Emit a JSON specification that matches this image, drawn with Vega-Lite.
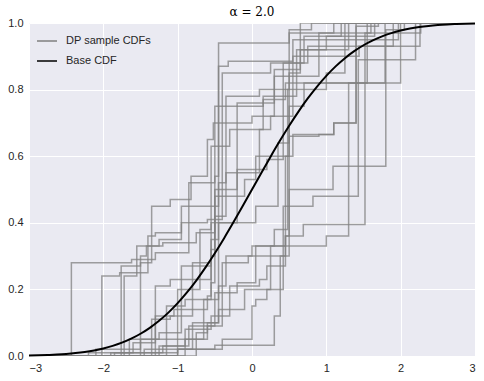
{
"$schema": "https://vega.github.io/schema/vega-lite/v6.json",
"width": 446, "height": 333,
"autosize": {"type": "none"},
"padding": {"left": 29, "top": 23, "right": 9, "bottom": 25},
"background": "white",
"config": {
 "view": {"fill": "#EAEAF2", "stroke": null},
 "axis": {"domain": false, "ticks": false, "gridColor": "white", "gridWidth": 1, "labelFont": "Liberation Sans", "labelFontSize": 11, "labelColor": "#262626", "title": null},
 "legend": {"labelFont": "Liberation Sans", "labelFontSize": 11, "labelColor": "#262626"}
},
"title": {"text": "α = 2.0", "font": "DejaVu Serif", "fontSize": 12, "fontWeight": "normal", "color": "#000000", "anchor": "middle", "offset": 4, "dy": 6},
"datasets": {
"samples": [
{"c":1,"x":-3,"y":0},{"c":1,"x":-2.43,"y":0.28},{"c":1,"x":-1.62,"y":0.29},{"c":1,"x":-1.3,"y":0.31},{"c":1,"x":-0.85,"y":0.52},{"c":1,"x":-0.5,"y":0.54},{"c":1,"x":-0.45,"y":0.94},{"c":1,"x":0.5,"y":0.97},{"c":1,"x":1.1,"y":1},{"c":1,"x":3,"y":1},
{"c":2,"x":-3,"y":0},{"c":2,"x":-2.02,"y":0.24},{"c":2,"x":-1.78,"y":0.25},{"c":2,"x":-1.4,"y":0.36},{"c":2,"x":-1.3,"y":0.37},{"c":2,"x":-0.95,"y":0.45},{"c":2,"x":-0.45,"y":0.87},{"c":2,"x":-0.32,"y":0.885},{"c":2,"x":0.55,"y":0.95},{"c":2,"x":1.97,"y":1},{"c":2,"x":3,"y":1},
{"c":3,"x":-3,"y":0},{"c":3,"x":-1.76,"y":0.27},{"c":3,"x":-1.5,"y":0.28},{"c":3,"x":-1.35,"y":0.45},{"c":3,"x":-1.1,"y":0.47},{"c":3,"x":-0.82,"y":0.54},{"c":3,"x":-0.6,"y":0.65},{"c":3,"x":-0.52,"y":0.7},{"c":3,"x":0.0,"y":0.72},{"c":3,"x":0.3,"y":0.84},{"c":3,"x":0.9,"y":0.97},{"c":3,"x":1.4,"y":1},{"c":3,"x":3,"y":1},
{"c":4,"x":-3,"y":0},{"c":4,"x":-1.72,"y":0.24},{"c":4,"x":-1.55,"y":0.33},{"c":4,"x":-1.25,"y":0.35},{"c":4,"x":-0.95,"y":0.4},{"c":4,"x":-0.6,"y":0.41},{"c":4,"x":-0.4,"y":0.85},{"c":4,"x":0.25,"y":0.88},{"c":4,"x":0.75,"y":0.93},{"c":4,"x":2.26,"y":1},{"c":4,"x":3,"y":1},
{"c":5,"x":-3,"y":0},{"c":5,"x":-1.5,"y":0.3},{"c":5,"x":-1.42,"y":0.33},{"c":5,"x":-1.2,"y":0.34},{"c":5,"x":-0.75,"y":0.37},{"c":5,"x":-0.5,"y":0.42},{"c":5,"x":-0.35,"y":0.78},{"c":5,"x":0.1,"y":0.8},{"c":5,"x":0.5,"y":0.98},{"c":5,"x":0.8,"y":1},{"c":5,"x":3,"y":1},
{"c":6,"x":-3,"y":0},{"c":6,"x":-1.3,"y":0.21},{"c":6,"x":-1.1,"y":0.23},{"c":6,"x":-0.7,"y":0.38},{"c":6,"x":-0.55,"y":0.4},{"c":6,"x":-0.2,"y":0.75},{"c":6,"x":0.15,"y":0.77},{"c":6,"x":0.45,"y":0.82},{"c":6,"x":1.79,"y":1},{"c":6,"x":3,"y":1},
{"c":7,"x":-3,"y":0},{"c":7,"x":-1.25,"y":0.03},{"c":7,"x":-0.9,"y":0.05},{"c":7,"x":-0.6,"y":0.1},{"c":7,"x":-0.5,"y":0.19},{"c":7,"x":-0.2,"y":0.22},{"c":7,"x":0.05,"y":0.33},{"c":7,"x":0.45,"y":0.6},{"c":7,"x":0.55,"y":0.665},{"c":7,"x":1.1,"y":0.7},{"c":7,"x":1.4,"y":0.97},{"c":7,"x":1.6,"y":1},{"c":7,"x":3,"y":1},
{"c":8,"x":-3,"y":0},{"c":8,"x":-1.9,"y":0.01},{"c":8,"x":-1.0,"y":0.02},{"c":8,"x":-0.5,"y":0.032},{"c":8,"x":0.3,"y":0.12},{"c":8,"x":0.38,"y":0.3},{"c":8,"x":0.5,"y":0.33},{"c":8,"x":1.0,"y":0.36},{"c":8,"x":1.3,"y":0.82},{"c":8,"x":2.0,"y":1},{"c":8,"x":3,"y":1},
{"c":9,"x":-3,"y":0},{"c":9,"x":-1.0,"y":0.02},{"c":9,"x":-0.4,"y":0.05},{"c":9,"x":0.0,"y":0.15},{"c":9,"x":0.05,"y":0.17},{"c":9,"x":0.2,"y":0.2},{"c":9,"x":0.42,"y":0.45},{"c":9,"x":0.82,"y":0.48},{"c":9,"x":1.43,"y":0.89},{"c":9,"x":2.2,"y":1},{"c":9,"x":3,"y":1},
{"c":10,"x":-3,"y":0},{"c":10,"x":-0.9,"y":0.08},{"c":10,"x":-0.55,"y":0.12},{"c":10,"x":-0.3,"y":0.21},{"c":10,"x":0.1,"y":0.23},{"c":10,"x":0.2,"y":0.27},{"c":10,"x":0.45,"y":0.36},{"c":10,"x":0.69,"y":0.395},{"c":10,"x":1.52,"y":0.97},{"c":10,"x":2.27,"y":1},{"c":10,"x":3,"y":1},
{"c":11,"x":-3,"y":0},{"c":11,"x":-1.45,"y":0.02},{"c":11,"x":-0.8,"y":0.1},{"c":11,"x":-0.45,"y":0.14},{"c":11,"x":-0.1,"y":0.2},{"c":11,"x":0.25,"y":0.33},{"c":11,"x":0.5,"y":0.5},{"c":11,"x":1.09,"y":0.57},{"c":11,"x":1.8,"y":0.98},{"c":11,"x":2.05,"y":1},{"c":11,"x":3,"y":1},
{"c":12,"x":-3,"y":0},{"c":12,"x":-1.15,"y":0.15},{"c":12,"x":-0.9,"y":0.17},{"c":12,"x":-0.55,"y":0.22},{"c":12,"x":-0.5,"y":0.48},{"c":12,"x":-0.1,"y":0.53},{"c":12,"x":0.05,"y":0.6},{"c":12,"x":0.5,"y":0.85},{"c":12,"x":0.65,"y":0.92},{"c":12,"x":1.3,"y":1},{"c":12,"x":3,"y":1},
{"c":13,"x":-3,"y":0},{"c":13,"x":-0.75,"y":0.07},{"c":13,"x":-0.6,"y":0.09},{"c":13,"x":-0.4,"y":0.28},{"c":13,"x":-0.05,"y":0.3},{"c":13,"x":0.45,"y":0.36},{"c":13,"x":0.5,"y":0.66},{"c":13,"x":0.9,"y":0.665},{"c":13,"x":1.1,"y":0.7},{"c":13,"x":1.4,"y":0.99},{"c":13,"x":1.7,"y":1},{"c":13,"x":3,"y":1},
{"c":14,"x":-3,"y":0},{"c":14,"x":-2.2,"y":0.01},{"c":14,"x":-1.6,"y":0.04},{"c":14,"x":-1.3,"y":0.12},{"c":14,"x":-1.05,"y":0.14},{"c":14,"x":-0.6,"y":0.18},{"c":14,"x":-0.55,"y":0.63},{"c":14,"x":-0.3,"y":0.68},{"c":14,"x":0.15,"y":0.78},{"c":14,"x":0.6,"y":0.92},{"c":14,"x":1.0,"y":0.96},{"c":14,"x":1.65,"y":1},{"c":14,"x":3,"y":1},
{"c":15,"x":-3,"y":0},{"c":15,"x":-1.65,"y":0.05},{"c":15,"x":-1.25,"y":0.07},{"c":15,"x":-0.95,"y":0.27},{"c":15,"x":-0.55,"y":0.3},{"c":15,"x":-0.5,"y":0.5},{"c":15,"x":-0.2,"y":0.56},{"c":15,"x":0.2,"y":0.59},{"c":15,"x":0.42,"y":0.88},{"c":15,"x":0.7,"y":0.96},{"c":15,"x":1.2,"y":1},{"c":15,"x":3,"y":1},
{"c":16,"x":-3,"y":0},{"c":16,"x":-1.0,"y":0.05},{"c":16,"x":-0.65,"y":0.17},{"c":16,"x":-0.45,"y":0.21},{"c":16,"x":-0.35,"y":0.3},{"c":16,"x":0.0,"y":0.33},{"c":16,"x":0.3,"y":0.38},{"c":16,"x":0.48,"y":0.8},{"c":16,"x":1.0,"y":0.85},{"c":16,"x":1.25,"y":1},{"c":16,"x":3,"y":1},
{"c":17,"x":-3,"y":0},{"c":17,"x":-1.85,"y":0.01},{"c":17,"x":-1.2,"y":0.03},{"c":17,"x":-0.85,"y":0.09},{"c":17,"x":-0.5,"y":0.1},{"c":17,"x":-0.45,"y":0.52},{"c":17,"x":-0.35,"y":0.55},{"c":17,"x":0.1,"y":0.68},{"c":17,"x":0.25,"y":0.72},{"c":17,"x":0.55,"y":0.9},{"c":17,"x":1.44,"y":0.93},{"c":17,"x":1.9,"y":1},{"c":17,"x":3,"y":1},
{"c":18,"x":-3,"y":0},{"c":18,"x":-1.35,"y":0.11},{"c":18,"x":-1.1,"y":0.12},{"c":18,"x":-0.8,"y":0.28},{"c":18,"x":-0.55,"y":0.35},{"c":18,"x":-0.45,"y":0.4},{"c":18,"x":0.05,"y":0.45},{"c":18,"x":0.35,"y":0.64},{"c":18,"x":0.5,"y":0.75},{"c":18,"x":0.7,"y":0.82},{"c":18,"x":1.55,"y":1},{"c":18,"x":3,"y":1},
{"c":19,"x":-3,"y":0},{"c":19,"x":-2.1,"y":0.02},{"c":19,"x":-1.5,"y":0.05},{"c":19,"x":-1.0,"y":0.2},{"c":19,"x":-0.7,"y":0.23},{"c":19,"x":-0.55,"y":0.32},{"c":19,"x":-0.5,"y":0.75},{"c":19,"x":-0.2,"y":0.76},{"c":19,"x":0.3,"y":0.86},{"c":19,"x":0.65,"y":1},{"c":19,"x":3,"y":1}
],
"base": [
{"x":-3,"y":0.00135},{"x":-2.875,"y":0.00202},{"x":-2.75,"y":0.00298},{"x":-2.625,"y":0.00433},{"x":-2.5,"y":0.00621},{"x":-2.375,"y":0.00877},{"x":-2.25,"y":0.01222},{"x":-2.125,"y":0.01679},{"x":-2,"y":0.02275},{"x":-1.875,"y":0.0304},{"x":-1.75,"y":0.04006},{"x":-1.625,"y":0.05208},{"x":-1.5,"y":0.06681},{"x":-1.375,"y":0.0846},{"x":-1.25,"y":0.10565},{"x":-1.125,"y":0.13029},{"x":-1,"y":0.15866},{"x":-0.875,"y":0.19079},{"x":-0.75,"y":0.22663},{"x":-0.625,"y":0.26599},{"x":-0.5,"y":0.30854},{"x":-0.375,"y":0.35383},{"x":-0.25,"y":0.40129},{"x":-0.125,"y":0.45026},{"x":0,"y":0.5},{"x":0.125,"y":0.54974},{"x":0.25,"y":0.59871},{"x":0.375,"y":0.64617},{"x":0.5,"y":0.69146},{"x":0.625,"y":0.73401},{"x":0.75,"y":0.77337},{"x":0.875,"y":0.80921},{"x":1,"y":0.84134},{"x":1.125,"y":0.86971},{"x":1.25,"y":0.89435},{"x":1.375,"y":0.9154},{"x":1.5,"y":0.93319},{"x":1.625,"y":0.94792},{"x":1.75,"y":0.95994},{"x":1.875,"y":0.9696},{"x":2,"y":0.97725},{"x":2.125,"y":0.98321},{"x":2.25,"y":0.98778},{"x":2.375,"y":0.99123},{"x":2.5,"y":0.99379},{"x":2.625,"y":0.99567},{"x":2.75,"y":0.99702},{"x":2.875,"y":0.99798},{"x":3,"y":0.99865}
]
},
"layer": [
 {"data": {"name": "samples"},
  "mark": {"type": "line", "interpolate": "step-after", "strokeWidth": 1.5, "opacity": 0.75, "clip": true},
  "encoding": {
   "x": {"field": "x", "type": "quantitative", "scale": {"domain": [-3, 3], "nice": false}, "axis": {"values": [-3,-2,-1,0,1,2,3], "format": "d", "labelPadding": 6}},
   "y": {"field": "y", "type": "quantitative", "scale": {"domain": [0, 1], "nice": false}, "axis": {"values": [0,0.2,0.4,0.6,0.8,1], "format": ".1f", "labelPadding": 6}},
   "detail": {"field": "c"},
   "color": {"datum": "DP sample CDFs", "type": "nominal",
     "scale": {"domain": ["DP sample CDFs", "Base CDF"], "range": ["#808080", "#000000"]},
     "legend": {"title": null, "orient": "top-left", "offset": 7, "padding": 0, "symbolType": "stroke", "symbolStrokeWidth": 2, "symbolSize": 400, "labelOffset": 8, "rowPadding": 4}}
  }},
 {"data": {"name": "base"},
  "mark": {"type": "line", "interpolate": "monotone", "strokeWidth": 2, "color": "#000000"},
  "encoding": {
   "x": {"field": "x", "type": "quantitative"},
   "y": {"field": "y", "type": "quantitative"},
   "color": {"datum": "Base CDF", "type": "nominal"}
  }}
]
}
